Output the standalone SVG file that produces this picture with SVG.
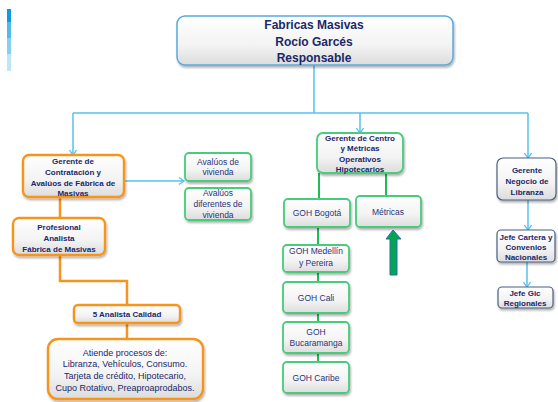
<svg xmlns="http://www.w3.org/2000/svg" width="558" height="402" viewBox="0 0 558 402">
<style>
.box{fill:url(#g);filter:url(#sh)}
.or{stroke:#f7941d;stroke-width:2.4}
.gr{stroke:#46cc7c;stroke-width:1.8}
.bl{stroke:#5aa9de;stroke-width:1.5}
.dk{stroke:#4d5f80;stroke-width:1.2}
text{font-family:"Liberation Sans",Arial,sans-serif;text-anchor:middle;fill:#1a2868}
.b{font-weight:bold;font-size:8px}
.r{font-size:8.5px;fill:#27357a}
.t{font-weight:bold;font-size:12px}
.cb{fill:none;stroke:#56c1f0;stroke-width:1.5}
.co{fill:none;stroke:#f7941d;stroke-width:2.5}
.cg{fill:none;stroke:#22bb55;stroke-width:2}
</style>
<defs>
<linearGradient id="g" x1="0" y1="0" x2="0" y2="1">
<stop offset="0" stop-color="#ffffff"/>
<stop offset="0.6" stop-color="#f3f3f3"/>
<stop offset="1" stop-color="#dcdcdc"/>
</linearGradient>
<filter id="sh" x="-10%" y="-10%" width="130%" height="140%">
<feDropShadow dx="1" dy="2" stdDeviation="1.2" flood-color="#000" flood-opacity="0.3"/>
</filter>
<marker id="ar" markerUnits="userSpaceOnUse" markerWidth="8" markerHeight="8" refX="6" refY="4" orient="auto">
<path d="M1,0.5 L6,4 L1,7.5" fill="none" stroke="#56c1f0" stroke-width="1.3"/>
</marker>
</defs>
<rect x="0" y="0" width="558" height="402" fill="#ffffff"/>
<g id="bar">
<rect x="7" y="9" width="4" height="13" fill="#0b9de0"/>
<rect x="7" y="22" width="4" height="16" fill="#4fbde8"/>
<rect x="7" y="38" width="4" height="16" fill="#86d0ef"/>
<rect x="7" y="54" width="4" height="17" fill="#bde6f6"/>
</g>
<g id="connectors">
<path class="cb" d="M314,65 V113 M73,113 H528"/>
<path class="cb" d="M73,113 V155" marker-end="url(#ar)"/>
<path class="cb" d="M360,113 V133" marker-end="url(#ar)"/>
<path class="cb" d="M528,113 V158" marker-end="url(#ar)"/>
<path class="cb" d="M124,181 H184" marker-end="url(#ar)"/>
<path class="cb" d="M528,200 V230" marker-end="url(#ar)"/>
<path class="cb" d="M527,262 V287" marker-end="url(#ar)"/>
<path class="co" d="M60,197 V218 M60,255 V281 H127 V305 M127,323 V339"/>
<path class="cg" d="M319,173 V199 M386,173 V196 M318,227 V245 M318,272 V282 M318,313 V322 M318,353 V362"/>
</g>
<g id="top">
<rect class="box bl" x="177" y="16" width="276" height="49" rx="8"/>
<text class="t" x="314" y="29">Fabricas Masivas</text>
<text class="t" x="314" y="46">Rocío Garcés</text>
<text class="t" x="314" y="62">Responsable</text>
</g>
<g id="gerente-contratacion">
<rect class="box or" x="23" y="155" width="101" height="42" rx="6"/>
<text class="b" x="73" y="164">Gerente de</text>
<text class="b" x="73" y="175">Contratación y</text>
<text class="b" x="73" y="186">Avalúos de Fábrica de</text>
<text class="b" x="73" y="196">Masivas</text>
</g>
<g id="profesional">
<rect class="box or" x="13" y="218" width="92" height="37" rx="6"/>
<text class="b" x="59" y="230">Profesional</text>
<text class="b" x="59" y="241">Analista</text>
<text class="b" x="59" y="252">Fábrica de Masivas</text>
</g>
<g id="analista-calidad">
<rect class="box or" x="74" y="305" width="106" height="18" rx="4"/>
<text class="b" x="127" y="317">5 Analista Calidad</text>
</g>
<g id="procesos">
<rect class="box or" x="48" y="339" width="155" height="60" rx="10"/>
<text style="font-size:9px" x="125" y="356">Atiende procesos de:</text>
<text style="font-size:9px" x="125" y="367">Libranza, Vehículos, Consumo.</text>
<text style="font-size:9px" x="125" y="379">Tarjeta de crédito, Hipotecario,</text>
<text style="font-size:9px" x="125" y="391">Cupo Rotativo, Preaproaprodabos.</text>
</g>
<g id="avaluos-vivienda">
<rect class="box gr" x="185" y="153" width="66" height="28" rx="4"/>
<text class="r" x="218" y="165">Avalúos de</text>
<text class="r" x="218" y="175">vivienda</text>
</g>
<g id="avaluos-diferentes">
<rect class="box gr" x="185" y="188" width="66" height="32" rx="4"/>
<text class="r" x="218" y="196">Avalúos</text>
<text class="r" x="218" y="207">diferentes de</text>
<text class="r" x="218" y="218">vivienda</text>
</g>
<g id="gerente-centro">
<rect class="box gr" x="317" y="133" width="86" height="40" rx="6"/>
<text class="b" x="360" y="141">Gerente de Centro</text>
<text class="b" x="360" y="151">y Métricas</text>
<text class="b" x="360" y="162">Operativos</text>
<text class="b" x="360" y="172">Hipotecarios</text>
</g>
<g id="goh-bogota">
<rect class="box gr" x="284" y="199" width="66" height="28" rx="4"/>
<text class="r" x="317" y="216">GOH Bogotá</text>
</g>
<g id="metricas">
<rect class="box gr" x="356" y="196" width="65" height="31" rx="4"/>
<text class="r" x="388" y="215">Métricas</text>
</g>
<g id="goh-medellin">
<rect class="box gr" x="283" y="245" width="66" height="27" rx="4"/>
<text class="r" x="316" y="254">GOH Medellín</text>
<text class="r" x="316" y="266">y Pereira</text>
</g>
<g id="goh-cali">
<rect class="box gr" x="283" y="282" width="66" height="31" rx="4"/>
<text class="r" x="316" y="301">GOH Cali</text>
</g>
<g id="goh-bucaramanga">
<rect class="box gr" x="283" y="322" width="66" height="31" rx="4"/>
<text class="r" x="316" y="335">GOH</text>
<text class="r" x="316" y="346">Bucaramanga</text>
</g>
<g id="goh-caribe">
<rect class="box gr" x="283" y="362" width="66" height="31" rx="4"/>
<text class="r" x="316" y="381">GOH Caribe</text>
</g>
<g id="flecha-verde">
<polygon points="393,230 401,239 397,239 397,275 390,275 390,239 386,239" fill="#00a651" stroke="#2a6aa8" stroke-width="1"/>
</g>
<g id="gerente-libranza">
<rect class="box dk" x="497" y="158" width="59" height="42" rx="6"/>
<text class="b" x="527" y="173">Gerente</text>
<text class="b" x="527" y="184">Negocio de</text>
<text class="b" x="527" y="195">Libranza</text>
</g>
<g id="jefe-cartera">
<rect class="box dk" x="497" y="230" width="58" height="32" rx="4"/>
<text class="b" x="526" y="240">Jefe Cartera y</text>
<text class="b" x="526" y="250">Convenios</text>
<text class="b" x="526" y="260">Nacionales</text>
</g>
<g id="jefe-gic">
<rect class="box dk" x="498" y="287" width="55" height="21" rx="4"/>
<text class="b" x="525" y="296">Jefe Gic</text>
<text class="b" x="525" y="306">Regionales</text>
</g>
</svg>
